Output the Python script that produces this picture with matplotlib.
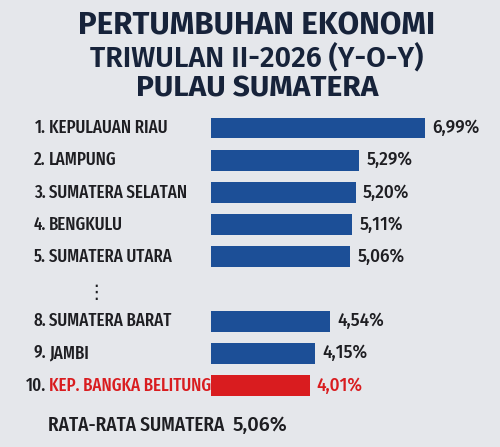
import matplotlib
matplotlib.use('Agg')
from matplotlib import pyplot as plt

nums = ['1.', '2.', '3.', '4.', '5.', '8.', '9.', '10.']
names = ['KEPULAUAN RIAU', 'LAMPUNG', 'SUMATERA SELATAN', 'BENGKULU',
         'SUMATERA UTARA', 'SUMATERA BARAT', 'JAMBI', 'KEP. BANGKA BELITUNG']
values = [6.99, 5.29, 5.20, 5.11, 5.06, 4.54, 4.15, 4.01]
rows = [0, 1, 2, 3, 4, 6, 7, 8]
avg_label = 'RATA-RATA SUMATERA'
avg_value = 5.06

blue = '#1c4f97'
red = '#d91c1f'
dark = '#1e1e22'
navy = '#17233a'
cond = 'Fira Sans Extra Condensed'
fira = 'Fira Sans'

fig = plt.figure(figsize=(5, 4.47), dpi=100)
fig.patch.set_facecolor('#e5e7eb')

W, H = 500, 447
ax = fig.add_axes([211 / W, 1 - 401.6 / H, 271 / W, 289.7 / H])
ax.set_facecolor('none')
colors = [red if n == '10.' else blue for n in nums]
ax.barh(rows, values, height=0.65, color=colors)
ax.set_xlim(1.472, 1.472 + 271 / 38.84)
ax.set_ylim(8.5, -0.5)
ax.axis('off')

for r, v, c in zip(rows, values, colors):
    ax.annotate(f'{v:.2f}%'.replace('.', ','), (v, r), xytext=(5, 0),
                textcoords='offset points', va='center', ha='left',
                fontsize=12.5, family=fira, fontweight='medium',
                color=red if c == red else dark)

tr = ax.get_yaxis_transform()
for r, n, nm, c in zip(rows, nums, names, colors):
    col = red if c == red else dark
    ax.text(-(211 - 46) / 271, r, n, transform=tr, ha='right', va='center',
            fontsize=13.2, family=cond, fontweight='medium', color=dark)
    ax.text(-(211 - 49) / 271, r, nm, transform=tr, ha='left', va='center',
            fontsize=13.2, family=cond, fontweight='medium', color=col)

ax.text(-(211 - 96) / 271, 5.1, '⋮', transform=tr, ha='center', va='center',
        fontsize=14, color=dark, family='DejaVu Sans')

fig.text(48 / W, 1 - 425 / H, avg_label, ha='left', va='center', fontsize=15,
         family=cond, fontweight='medium', color=dark)
fig.text(233 / W, 1 - 425 / H, f'{avg_value:.2f}%'.replace('.', ','), ha='left',
         va='center', fontsize=14.5, family=fira, fontweight='medium', color=dark)

fig.text(257 / W, 1 - 26 / H, 'PERTUMBUHAN EKONOMI', ha='center', va='center',
         fontsize=22.5, family=fira, fontweight='bold', color=navy)
fig.text(257 / W, 1 - 58 / H, 'TRIWULAN II-2026 (Y-O-Y)', ha='center', va='center',
         fontsize=20.5, family=fira, fontweight='semibold', color=navy)
fig.text(257 / W, 1 - 89 / H, 'PULAU SUMATERA', ha='center', va='center',
         fontsize=21.5, family=fira, fontweight='bold', color=navy)

fig.savefig('out.png', dpi=100)
